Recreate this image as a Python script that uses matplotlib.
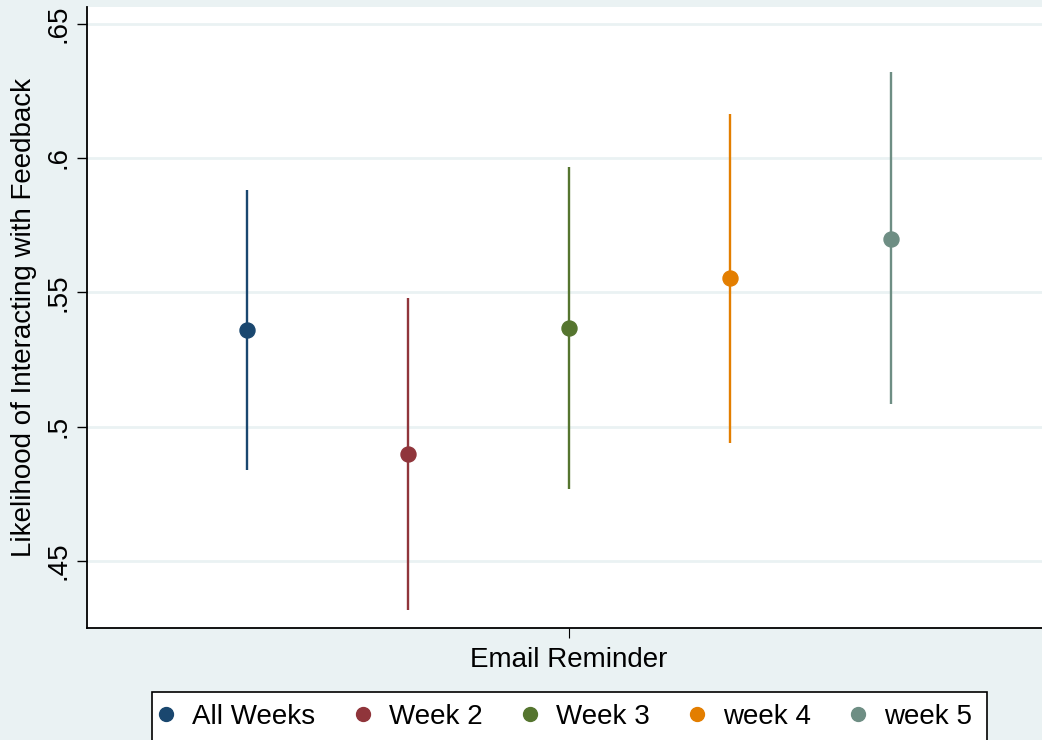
import matplotlib
matplotlib.use("Agg")
import matplotlib.pyplot as plt
from matplotlib.lines import Line2D
from matplotlib.patches import Rectangle

# Estimated likelihood and 95% confidence bounds by email reminder group
groups = ["All Weeks", "Week 2", "Week 3", "week 4", "week 5"]
estimates = [0.5359, 0.4898, 0.5367, 0.5552, 0.5700]
ci_lower = [0.4839, 0.4318, 0.4768, 0.4939, 0.5084]
ci_upper = [0.5879, 0.5480, 0.5967, 0.6164, 0.6318]
y_ticks = [0.45, 0.50, 0.55, 0.60, 0.65]
y_tick_labels = [".45", ".5", ".55", ".6", ".65"]

colors = ["#1A476F", "#90353B", "#55752F", "#E37E00", "#6E8E84"]
bg = "#EAF2F3"
fs = 20

plt.rcParams["font.family"] = ["Liberation Sans", "DejaVu Sans"]

W, H = 1042, 740
fig = plt.figure(figsize=(W / 100, H / 100), dpi=100, facecolor=bg)
ax = fig.add_axes([0.0832, 0.1509, 0.9168, 0.8401])
ax.set_facecolor("white")

positions = list(range(1, len(groups) + 1))
for x, est, lo, hi, c in zip(positions, estimates, ci_lower, ci_upper, colors):
    ax.plot([x, x], [lo, hi], color=c, lw=1.7, solid_capstyle="butt", zorder=3)
    ax.plot([x], [est], marker="o", ms=10.8, color=c, mec=c, zorder=4)

ax.set_xlim(0.004, 5.94)
ax.set_ylim(0.4249, 0.6563)

ax.set_yticks(y_ticks)
ax.set_yticklabels(y_tick_labels, rotation=90, va="center", fontsize=fs)
ax.set_xticks([3])
ax.set_xticklabels(["Email Reminder"], fontsize=fs)
ax.tick_params(axis="y", length=7.2, width=1.0, pad=4)
ax.tick_params(axis="x", length=7.2, width=0.8, pad=6.5)

ax.grid(axis="y", color=bg, lw=2.0, zorder=0)
ax.set_axisbelow(True)

for side in ["top", "right"]:
    ax.spines[side].set_visible(False)
for side in ["left", "bottom"]:
    ax.spines[side].set_linewidth(1.3)
    ax.spines[side].set_color("black")

ax.set_ylabel("Likelihood of Interacting with Feedback", fontsize=fs, labelpad=6)

# Legend frame runs off the bottom of the figure
frame = Rectangle((151.7 / W, -0.05), (986.7 - 151.7) / W, 0.05 + 1 - 691.7 / H,
                  transform=fig.transFigure, facecolor="white", edgecolor="black",
                  lw=1.2, zorder=1)
fig.patches.append(frame)

handles = [Line2D([], [], ls="none", marker="o", ms=10, color=c, mec=c) for c in colors]
leg = fig.legend(handles, groups, loc="center left", ncol=5,
                 bbox_to_anchor=(155 / W, 1 - 717 / H),
                 fontsize=fs, frameon=False,
                 handlelength=0.8, handletextpad=0.55, columnspacing=1.29,
                 borderpad=0.0, borderaxespad=0.0)
leg.set_zorder(2)

fig.savefig("out.png", dpi=100, facecolor=bg)
